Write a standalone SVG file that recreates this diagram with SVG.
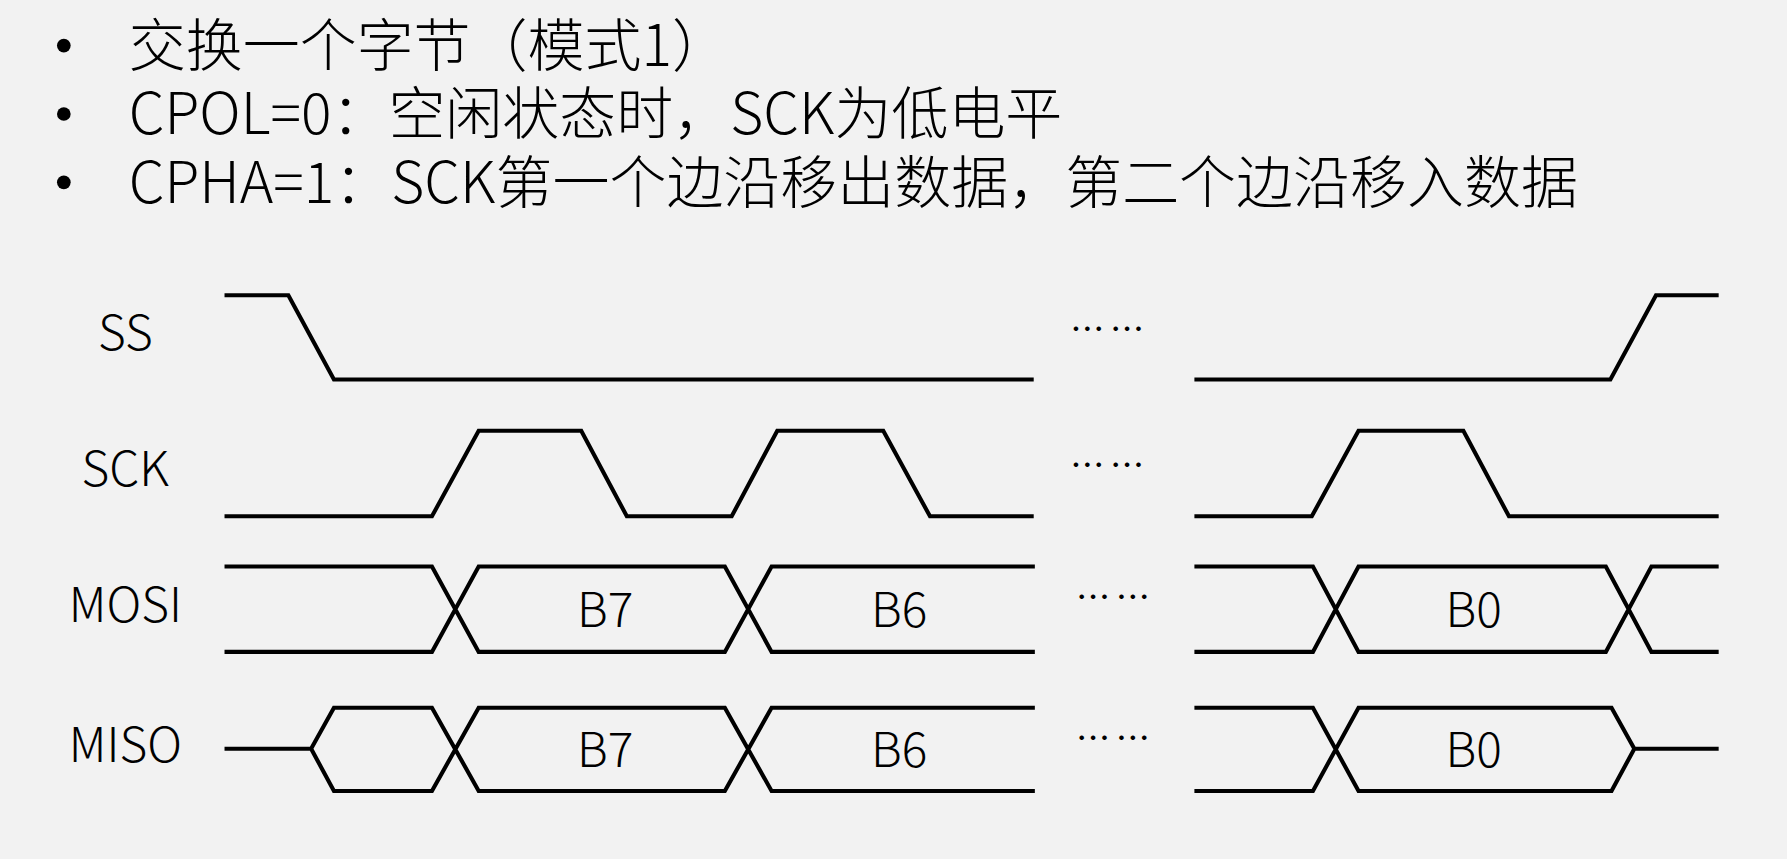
<svg xmlns="http://www.w3.org/2000/svg" width="1787" height="859" viewBox="0 0 1787 859">
<style>
.w{fill:none;stroke:#000;stroke-width:3.6;stroke-linejoin:miter}
.h{font-family:"Noto Sans CJK SC","Noto Sans",sans-serif;font-size:50px;font-weight:300;fill:#000}
.l{font-family:"Noto Sans CJK SC","Noto Sans",sans-serif;font-size:42px;font-weight:300;fill:#000;text-anchor:middle}
.d{font-family:"Noto Sans CJK SC","Noto Sans",sans-serif;font-size:30px;fill:#000;letter-spacing:5px}
</style>
<rect width="1787" height="859" fill="#f2f2f2"/>
<g transform="scale(1.1397)">
<g id="title">
<circle cx="56" cy="40" r="6"/><circle cx="56" cy="100" r="6"/><circle cx="56" cy="160" r="6"/>
<text class="h" x="113" y="58">交换一个字节（模式1）</text>
<text class="h" x="113" y="118">CPOL=0：空闲状态时，SCK为低电平</text>
<text class="h" x="113" y="178">CPHA=1：SCK第一个边沿移出数据，第二个边沿移入数据</text>
</g>
<g id="labels">
<text class="l" x="110" y="307">SS</text>
<text class="l" x="110" y="426">SCK</text>
<text class="l" x="110" y="546">MOSI</text>
<text class="l" x="110" y="669">MISO</text>
<text class="l" x="531" y="550">B7</text>
<text class="l" x="789" y="550">B6</text>
<text class="l" x="1293" y="550">B0</text>
<text class="l" x="531" y="673">B7</text>
<text class="l" x="789" y="673">B6</text>
<text class="l" x="1293" y="673">B0</text>
<text class="d" x="939" y="300">……</text>
<text class="d" x="939" y="419">……</text>
<text class="d" x="944" y="535">……</text>
<text class="d" x="944" y="659">……</text>
</g>
<g id="connectors">
<path id="ss" class="w" d="M197 259H253L293 333H907M1048 333H1413L1453 259H1508"/>
<path id="sck" class="w" d="M197 453H379L420 378H510L550 453H642L682 378H775L816 453H907M1048 453H1151L1192 378H1284L1324 453H1508"/>
<path id="mosi" class="w" d="M197 497H379L420 572H636L677 497H908M197 572H379L420 497H636L677 572H908M1048 497H1152L1192 572H1409L1449 497H1508M1048 572H1152L1192 497H1409L1449 572H1508"/>
<path id="miso" class="w" d="M197 657H273L293 621H379L420 694H636L677 621H908M273 657L293 694H379L420 621H636L677 694H908M1048 621H1152L1192 694H1414L1434 657H1508M1048 694H1152L1192 621H1414L1434 657"/>
</g>
</g>
</svg>
